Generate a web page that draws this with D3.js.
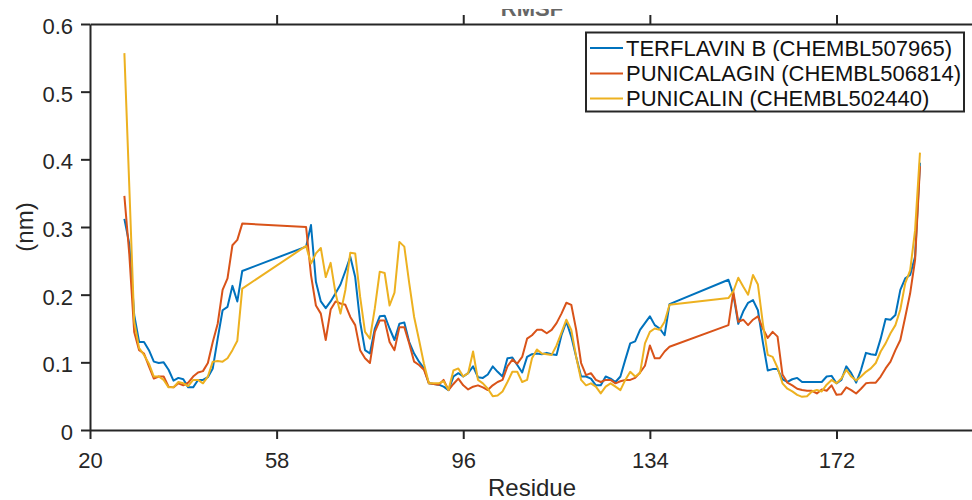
<!DOCTYPE html>
<html>
<head>
<meta charset="utf-8">
<script src="https://cdn.jsdelivr.net/npm/d3@7"></script>
<style>
  html, body { margin: 0; padding: 0; background: #fff; }
  svg { display: block; font-family: "Liberation Sans", Arial, Helvetica, sans-serif; }
</style>
</head>
<body>
<svg id="chart" width="972" height="500"></svg>
<script>
// Residue numbers (gaps at 52-63 and 139-149 are bridged by straight segments)
const residues = [
  27,28,29,30,31,32,33,34,35,36,37,38,39,40,41,42,43,44,45,46,47,48,49,50,51,
  64,65,66,67,68,69,70,71,72,73,74,75,76,77,78,79,80,81,82,83,84,85,86,87,88,89,
  90,91,92,93,94,95,96,97,98,99,100,101,102,103,104,105,106,107,108,109,110,111,
  112,113,114,115,116,117,118,119,120,121,122,123,124,125,126,127,128,129,130,131,
  132,133,134,135,136,137,138,
  150,151,152,153,154,155,156,157,158,159,160,161,162,163,164,165,166,167,168,169,
  170,171,172,173,174,175,176,177,178,179,180,181,182,183,184,185,186,187,188,189
];

// RMSF (nm) per residue
const terflavinB = [
  0.312,0.275,0.170,0.130,0.130,0.118,0.101,0.099,0.100,0.089,0.073,0.077,0.075,0.063,0.063,0.074,0.074,0.078,0.091,0.135,0.177,0.182,0.213,0.190,0.235,
  0.271,0.303,0.219,0.190,0.180,0.190,0.202,0.215,0.235,0.256,
  0.226,0.160,0.118,0.113,0.150,0.168,0.169,0.150,0.133,0.157,
  0.159,0.130,0.113,0.101,0.091,0.069,0.068,0.067,0.064,0.059,
  0.079,0.084,0.079,0.084,0.094,0.078,0.077,0.082,0.094,0.086,
  0.079,0.106,0.107,0.096,0.085,0.108,0.112,0.113,0.112,0.114,
  0.112,0.111,0.140,0.160,0.138,0.108,0.079,0.079,0.076,0.066,
  0.066,0.079,0.076,0.071,0.079,0.104,0.128,0.131,0.148,0.158,
  0.168,0.155,0.150,0.140,0.186,
  0.222,0.200,0.157,0.175,0.188,0.192,0.177,0.130,0.088,0.090,
  0.090,0.075,0.071,0.075,0.077,0.071,0.071,0.071,0.071,0.071,
  0.079,0.080,0.069,0.074,0.094,0.084,0.070,0.089,0.114,0.112,
  0.111,0.135,0.164,0.163,0.170,0.207,0.224,0.229,0.256,0.395
];

const punicalagin = [
  0.346,0.260,0.145,0.118,0.113,0.094,0.076,0.079,0.079,0.064,0.063,0.069,0.066,0.070,0.079,0.085,0.087,0.099,0.130,0.157,0.207,0.224,0.273,0.281,0.305,
  0.300,0.229,0.184,0.172,0.133,0.178,0.190,0.187,0.185,0.167,
  0.155,0.118,0.106,0.099,0.145,0.162,0.162,0.130,0.118,0.152,
  0.152,0.128,0.101,0.096,0.089,0.069,0.068,0.067,0.074,0.059,
  0.068,0.076,0.066,0.060,0.064,0.066,0.063,0.059,0.066,0.071,
  0.074,0.094,0.104,0.098,0.108,0.135,0.140,0.148,0.148,0.143,
  0.148,0.158,0.172,0.188,0.185,0.148,0.099,0.081,0.084,0.074,
  0.071,0.074,0.074,0.069,0.072,0.074,0.074,0.077,0.085,0.095,
  0.125,0.106,0.106,0.116,0.123,
  0.155,0.204,0.160,0.163,0.155,0.163,0.168,0.150,0.136,0.145,
  0.138,0.082,0.070,0.066,0.061,0.059,0.058,0.058,0.054,0.060,
  0.058,0.066,0.052,0.053,0.063,0.059,0.054,0.061,0.069,0.070,
  0.070,0.079,0.091,0.101,0.118,0.133,0.167,0.202,0.251,0.390
];

const punicalin = [
  0.557,0.360,0.160,0.121,0.111,0.098,0.079,0.079,0.074,0.063,0.063,0.071,0.069,0.065,0.074,0.074,0.069,0.079,0.101,0.102,0.101,0.106,0.118,0.132,0.209,
  0.272,0.246,0.261,0.269,0.226,0.247,0.202,0.172,0.207,0.262,
  0.261,0.197,0.145,0.135,0.180,0.234,0.232,0.184,0.203,0.278,
  0.271,0.217,0.167,0.133,0.098,0.069,0.069,0.069,0.072,0.059,
  0.088,0.091,0.079,0.084,0.116,0.074,0.069,0.061,0.050,0.051,
  0.057,0.071,0.086,0.086,0.071,0.074,0.106,0.119,0.113,0.112,
  0.111,0.125,0.144,0.163,0.148,0.108,0.074,0.066,0.069,0.064,
  0.054,0.064,0.069,0.064,0.059,0.074,0.086,0.079,0.084,0.128,
  0.145,0.150,0.148,0.160,0.185,
  0.195,0.205,0.225,0.212,0.200,0.229,0.215,0.158,0.111,0.108,
  0.092,0.069,0.061,0.057,0.052,0.049,0.050,0.057,0.059,0.057,
  0.067,0.074,0.069,0.076,0.089,0.079,0.073,0.079,0.086,0.091,
  0.099,0.116,0.128,0.143,0.155,0.178,0.217,0.236,0.295,0.410
];

const seriesNames = ["TERFLAVIN B (CHEMBL507965)", "PUNICALAGIN (CHEMBL506814)", "PUNICALIN (CHEMBL502440)"];
const seriesColors = ["#0072BD", "#D95319", "#EDB120"];
const xTicks = [20, 58, 96, 134, 172];
const yTicks = [0, 0.1, 0.2, 0.3, 0.4, 0.5, 0.6];
const yTickLabels = ["0", "0.1", "0.2", "0.3", "0.4", "0.5", "0.6"];

const svg = d3.select("#chart");
const plotLeft = 90, plotTop = 24, plotBottom = 430, plotRight = 974;
const axisColor = "#262626";

const x = d3.scaleLinear().domain([20, 200]).range([plotLeft, plotRight]);
const y = d3.scaleLinear().domain([0, 0.6]).range([plotBottom, plotTop]);

// Title (only its lower edge falls inside the frame)
svg.append("clipPath").attr("id", "titleClip")
  .append("rect").attr("x", 0).attr("y", 9).attr("width", 972).attr("height", 9);
svg.append("text")
  .attr("clip-path", "url(#titleClip)")
  .attr("x", (plotLeft + plotRight) / 2).attr("y", 16)
  .attr("text-anchor", "middle")
  .attr("font-size", 22).attr("font-weight", "bold")
  .attr("fill", "#666")
  .text("RMSF");

// Series lines
const seriesData = [terflavinB, punicalagin, punicalin];
const line = d3.line().x(d => x(d[0])).y(d => y(d[1]));
seriesData.forEach((vals, i) => {
  svg.append("path")
    .datum(residues.map((r, k) => [r, vals[k]]))
    .attr("fill", "none")
    .attr("stroke", seriesColors[i])
    .attr("stroke-width", 2)
    .attr("stroke-linejoin", "round")
    .attr("d", line);
});

function styleAxis(g) {
  g.select(".domain").attr("stroke", axisColor).attr("stroke-width", 2);
  g.selectAll(".tick line").attr("stroke", axisColor).attr("stroke-width", 2);
  g.selectAll(".tick text").attr("fill", axisColor)
    .attr("font-size", 22).attr("font-family", "Liberation Sans, Arial, sans-serif");
}

// Bottom axis
const gx = svg.append("g").attr("transform", `translate(0,${plotBottom})`)
  .call(d3.axisBottom(x).tickValues(xTicks).tickSize(9).tickSizeOuter(0).tickPadding(13).tickFormat(d3.format("d")));
styleAxis(gx);

// Top axis (ticks only)
const gt = svg.append("g").attr("transform", `translate(0,${plotTop})`)
  .call(d3.axisTop(x).tickValues(xTicks.slice(1)).tickSize(9).tickSizeOuter(0).tickFormat(""));
styleAxis(gt);

// Left axis
const gy = svg.append("g").attr("transform", `translate(${plotLeft},0)`)
  .call(d3.axisLeft(y).tickValues(yTicks).tickSize(9).tickSizeOuter(0).tickPadding(8)
    .tickFormat((d, i) => yTickLabels[i]));
styleAxis(gy);
gy.selectAll(".tick text").attr("dy", "0.43em");

// Axis labels
svg.append("text")
  .attr("x", (plotLeft + plotRight) / 2).attr("y", 496)
  .attr("text-anchor", "middle")
  .attr("font-size", 24).attr("fill", axisColor)
  .text("Residue");

svg.append("text")
  .attr("transform", `translate(33,${(plotTop + plotBottom) / 2}) rotate(-90)`)
  .attr("text-anchor", "middle")
  .attr("font-size", 24).attr("fill", axisColor)
  .text("(nm)");

// Legend
const lg = svg.append("g");
lg.append("rect")
  .attr("x", 586).attr("y", 32.5).attr("width", 378).attr("height", 79)
  .attr("fill", "#fff").attr("stroke", axisColor).attr("stroke-width", 2);
const rowY = [48, 73.5, 98.5];
seriesNames.forEach((name, i) => {
  lg.append("line")
    .attr("x1", 590).attr("x2", 623)
    .attr("y1", rowY[i]).attr("y2", rowY[i])
    .attr("stroke", seriesColors[i]).attr("stroke-width", 2);
  lg.append("text")
    .attr("x", 626).attr("y", rowY[i]).attr("dy", "0.36em")
    .attr("font-size", 22).attr("fill", "#111")
    .text(name);
});
</script>
</body>
</html>
